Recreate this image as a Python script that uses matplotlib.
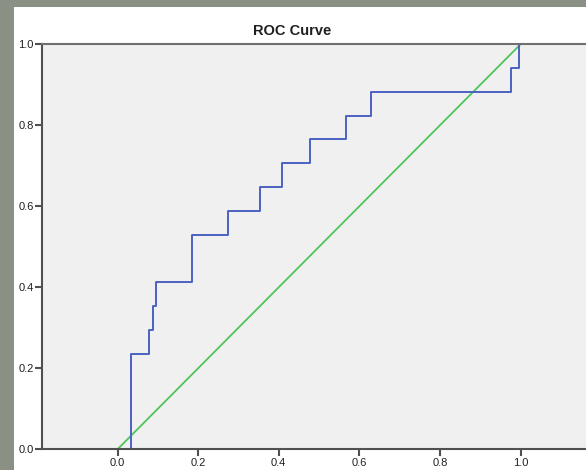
import matplotlib
matplotlib.use("Agg")
import matplotlib.pyplot as plt
from matplotlib.patches import Rectangle

plt.rcParams['font.family'] = ['Liberation Sans', 'DejaVu Sans']

# ROC step points (false positive rate, sensitivity)
fpr = [0.0, 0.0335, 0.078, 0.087, 0.0955, 0.185, 0.275, 0.354, 0.407,
       0.478, 0.568, 0.629, 0.976, 0.997, 1.0]
tpr = [0.0, 0.235, 0.294, 0.353, 0.412, 0.529, 0.588, 0.647, 0.706,
       0.765, 0.824, 0.882, 0.941, 1.0, 1.0]
# reference diagonal
ref_x = [0.0, 1.0]
ref_y = [0.0, 1.0]

tick_vals = [0.0, 0.2, 0.4, 0.6, 0.8, 1.0]
tick_labels = ["0.0", "0.2", "0.4", "0.6", "0.8", "1.0"]

W, H = 586, 470
fig = plt.figure(figsize=(W / 100, H / 100), dpi=100)
fig.patch.set_facecolor('#8a9083')

# white chart panel
fig.add_artist(Rectangle((14 / W, 0), 1, (H - 7) / H, transform=fig.transFigure,
                         facecolor='white', edgecolor='none', zorder=0))

left = 42 / W
bottom = (H - 449.3) / H
top = (H - 44.3) / H
ax = fig.add_axes([left, bottom, 1.0 - left, top - bottom])
ax.set_facecolor('#f0f0f0')

x0_px, x1_px = 117.5, 520.5
scale = x1_px - x0_px
ax.set_xlim((42 - x0_px) / scale, (W - x0_px) / scale)
ax.set_ylim(0, 1)

ax.plot(fpr, tpr, drawstyle='steps-post', color='#4a62c0', lw=1.4, zorder=3,
        clip_on=False)
ax.plot(ref_x, ref_y, color='#4ec45c', lw=1.3, zorder=2)

for side in ['left', 'bottom']:
    ax.spines[side].set_color('#505050')
    ax.spines[side].set_linewidth(1.5)
ax.spines['top'].set_color('#707070')
ax.spines['top'].set_linewidth(1.5)
ax.spines['right'].set_visible(False)
for s in ax.spines.values():
    s.set_zorder(4)

ax.set_xticks(tick_vals)
ax.set_xticklabels(tick_labels)
ax.set_yticks(tick_vals)
ax.set_yticklabels(tick_labels)
ax.tick_params(axis='both', direction='out', length=5, width=1.5, color='#505050',
               labelsize=8, labelcolor='#202020', pad=1)

fig.text(292.5 / W, (H - 31) / H, "ROC Curve", ha='center', va='center',
         fontsize=10.5, fontweight='bold', color='#202020')

fig.savefig("out.png", dpi=100, facecolor=fig.get_facecolor())
